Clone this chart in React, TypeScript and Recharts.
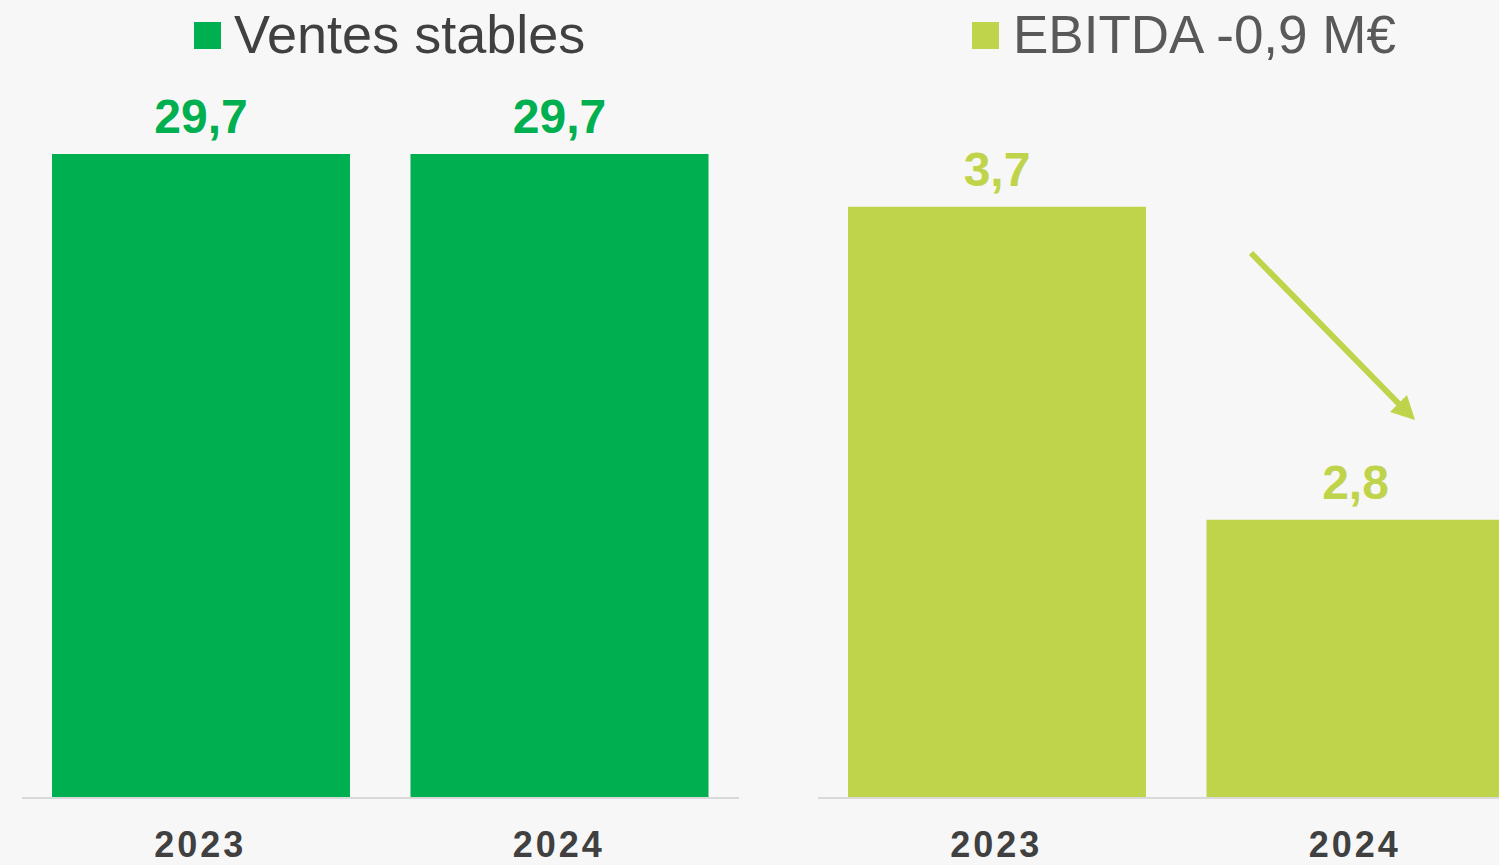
import { BarChart, Bar, XAxis, YAxis, LabelList } from "recharts";

// valeurs (M€)
const years = ["2023", "2024"];
const ventes = [29.7, 29.7];
const ebitda = [3.7, 2.8];
const ventesDomain = [0, 30];
const ebitdaDomain = [2, 4];
const legendVentes = "Ventes stables";
const legendEbitda = "EBITDA -0,9 M€";

const DARK = "#00AF50";
const LIGHT = "#BFD44B";
const BG = "#F7F7F7";
const font = '"Liberation Sans", Arial, sans-serif';

const ventesData = years.map((year, i) => ({ year, value: ventes[i] }));
const ebitdaData = years.map((year, i) => ({ year, value: ebitda[i] }));

const fmt = (v: any) => Number(v).toFixed(1).replace(".", ",");

function YearTick({ x, y, payload }: any) {
  return (
    <text x={x - 1} y={y} dy={59} textAnchor="middle" fontFamily={font} fontWeight={700}
      fontSize={36} letterSpacing={3} fill="#404040">
      {payload.value}
    </text>
  );
}

function Panel({ data, domain, color, top }: { data: any[]; domain: number[]; color: string; top: number }) {
  return (
    <BarChart width={760} height={865} data={data} margin={{ top, right: 21, bottom: 0, left: 22 }}>
      <XAxis dataKey="year" height={67} tickLine={false} tickSize={0} tickMargin={0}
        axisLine={{ stroke: "#D9D9D9", strokeWidth: 2 }} tick={<YearTick />} interval={0} />
      <YAxis hide domain={domain} type="number" />
      <Bar dataKey="value" fill={color} barSize={298} isAnimationActive={false}>
        <LabelList dataKey="value" position="top" offset={21} formatter={fmt}
          fill={color} fontSize={48} fontWeight={700} fontFamily={font} />
      </Bar>
    </BarChart>
  );
}

export default function App() {
  return (
    <div style={{ position: "absolute", left: 0, top: 0, width: 1499, height: 865, overflow: "hidden", background: BG }}>
      <div style={{ position: "absolute", left: 0, top: 0 }}>
        <Panel data={ventesData} domain={ventesDomain} color={DARK} top={147.5} />
      </div>
      <div style={{ position: "absolute", left: 796, top: 0 }}>
        <Panel data={ebitdaData} domain={ebitdaDomain} color={LIGHT} top={102.4} />
      </div>
      <svg width={1499} height={865} style={{ position: "absolute", left: 0, top: 0, pointerEvents: "none" }}>
        <rect x={194} y={22} width={27} height={27} fill={DARK} />
        <text x={234} y={53} fontFamily={font} fontSize={54} fill="#404040">{legendVentes}</text>
        <rect x={972} y={22} width={27} height={27} fill={LIGHT} />
        <text x={1013} y={53} fontFamily={font} fontSize={53} fill="#595959">{legendEbitda}</text>
        {/* flèche de baisse */}
        <line x1={1251} y1={253} x2={1400} y2={405} stroke={LIGHT} strokeWidth={6} />
        <polygon points="1415,420 1390,412 1407,395" fill={LIGHT} />
      </svg>
    </div>
  );
}
